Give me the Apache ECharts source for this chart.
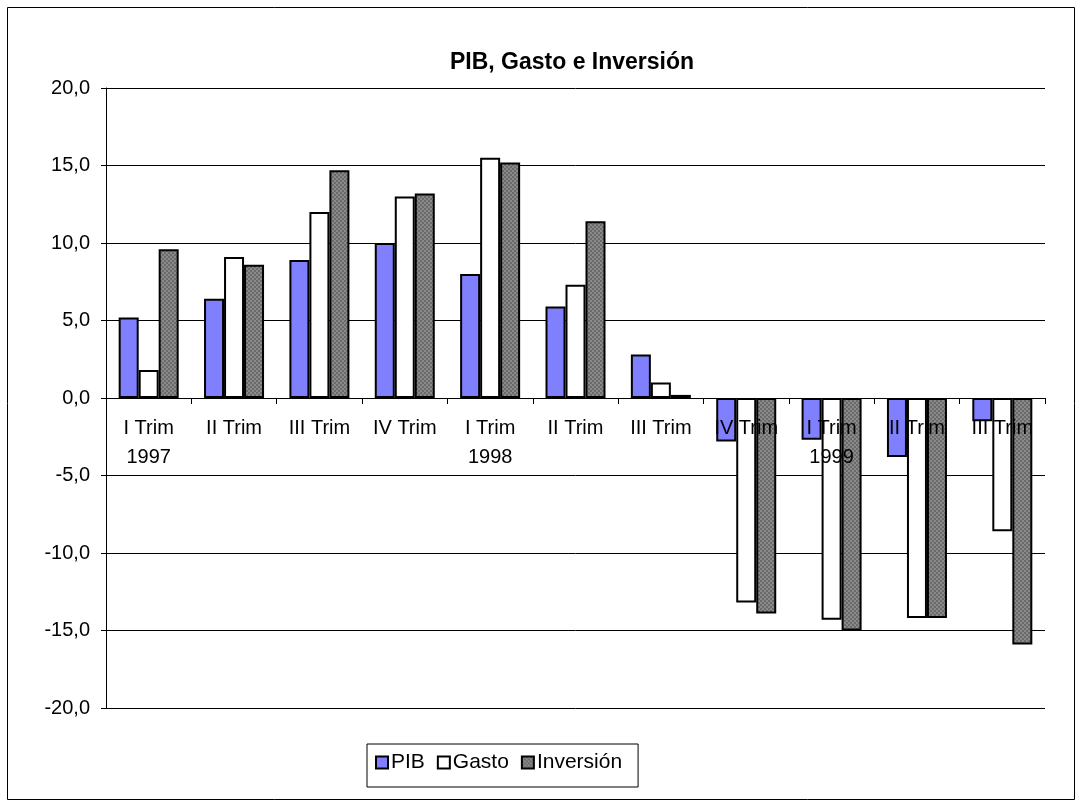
<!DOCTYPE html>
<html>
<head>
<meta charset="utf-8">
<script src="https://cdn.jsdelivr.net/npm/echarts@6/dist/echarts.min.js"></script>
<style>
  html, body { margin: 0; padding: 0; background: #fff; }
  #main { width: 1082px; height: 807px; }
</style>
</head>
<body>
<div id="main"></div>
<script>
var categories = ['I Trim\n1997', 'II Trim', 'III Trim', 'IV Trim', 'I Trim\n1998', 'II Trim', 'III Trim', 'IV Trim', 'I Trim\n1999', 'II Trim', 'III Trim'];
var pib = [5.2, 6.4, 8.9, 10.0, 8.0, 5.9, 2.8, -2.8, -2.7, -3.8, -1.5];
var gasto = [1.8, 9.1, 12.0, 13.0, 15.5, 7.3, 1.0, -13.2, -14.3, -14.2, -8.6];
var inversion = [9.6, 8.6, 14.7, 13.2, 15.2, 11.4, 0.2, -13.9, -15.0, -14.2, -15.9];

// dithered grey like the old spreadsheet fill
var pat = document.createElement('canvas');
pat.width = 4; pat.height = 4;
var pc = pat.getContext('2d');
pc.fillStyle = '#8a8a8a'; pc.fillRect(0, 0, 4, 4);
pc.fillStyle = '#6a6a6a';
pc.fillRect(0, 0, 2, 2); pc.fillRect(2, 2, 2, 2);

var myChart = echarts.init(document.getElementById('main'));

var font = 'Liberation Sans, Arial, sans-serif';
var barStyle = function (color) {
    return { color: color, borderColor: '#000', borderWidth: 2 };
};

var option = {
    animation: false,
    backgroundColor: '#fff',
    textStyle: { fontFamily: font },
    graphic: [{
        type: 'rect',
        shape: { x: 7.5, y: 7.5, width: 1067, height: 792 },
        style: { fill: 'none', stroke: '#000', lineWidth: 1 },
        z: -1
    }],
    title: {
        text: 'PIB, Gasto e Inversión',
        left: 567,
        textAlign: 'center',
        top: 46,
        textStyle: { fontSize: 23, fontWeight: 'bold', color: '#000', fontFamily: font }
    },
    legend: {
        top: 744,
        left: 367,
        itemWidth: 12,
        itemHeight: 12,
        itemGap: 12,
        borderColor: '#000',
        borderWidth: 1,
        borderRadius: 0,
        padding: [8, 16, 14, 8],
        textStyle: { fontSize: 21, color: '#000', fontFamily: font, padding: [0, 0, 0, -2] },
        data: [
            { name: 'PIB', icon: 'rect', itemStyle: barStyle('#8080ff') },
            { name: 'Gasto', icon: 'rect', itemStyle: barStyle('#fff') },
            { name: 'Inversión', icon: 'rect', itemStyle: barStyle({ image: pat, repeat: 'repeat' }) }
        ]
    },
    grid: { left: 106, right: 37, top: 88, bottom: 99 },
    xAxis: {
        type: 'category',
        data: categories,
        z: 10,
        offset: -310,
        axisLine: { onZero: false, lineStyle: { color: '#000', width: 1 } },
        axisTick: { show: true, length: 6, lineStyle: { color: '#000' } },
        axisLabel: {
            interval: 0,
            margin: 16,
            fontSize: 20,
            lineHeight: 29,
            color: '#000',
            fontFamily: font
        }
    },
    yAxis: {
        type: 'value',
        min: -20,
        max: 20,
        interval: 5,
        axisLine: { show: true, lineStyle: { color: '#000', width: 1 } },
        axisTick: { show: true, length: 5, lineStyle: { color: '#000' } },
        splitLine: { lineStyle: { color: '#000', width: 1 } },
        axisLabel: {
            fontSize: 20,
            color: '#000',
            margin: 16,
            fontFamily: font,
            formatter: function (v) { return v.toFixed(1).replace('.', ','); }
        }
    },
    series: [
        { name: 'PIB', type: 'bar', data: pib, barWidth: 20, barGap: '0%', itemStyle: barStyle('#8080ff') },
        { name: 'Gasto', type: 'bar', data: gasto, barWidth: 20, barGap: '0%', itemStyle: barStyle('#fff') },
        { name: 'Inversión', type: 'bar', data: inversion, barWidth: 20, barGap: '0%', itemStyle: barStyle({ image: pat, repeat: 'repeat' }) }
    ]
};

myChart.setOption(option);
</script>
</body>
</html>
